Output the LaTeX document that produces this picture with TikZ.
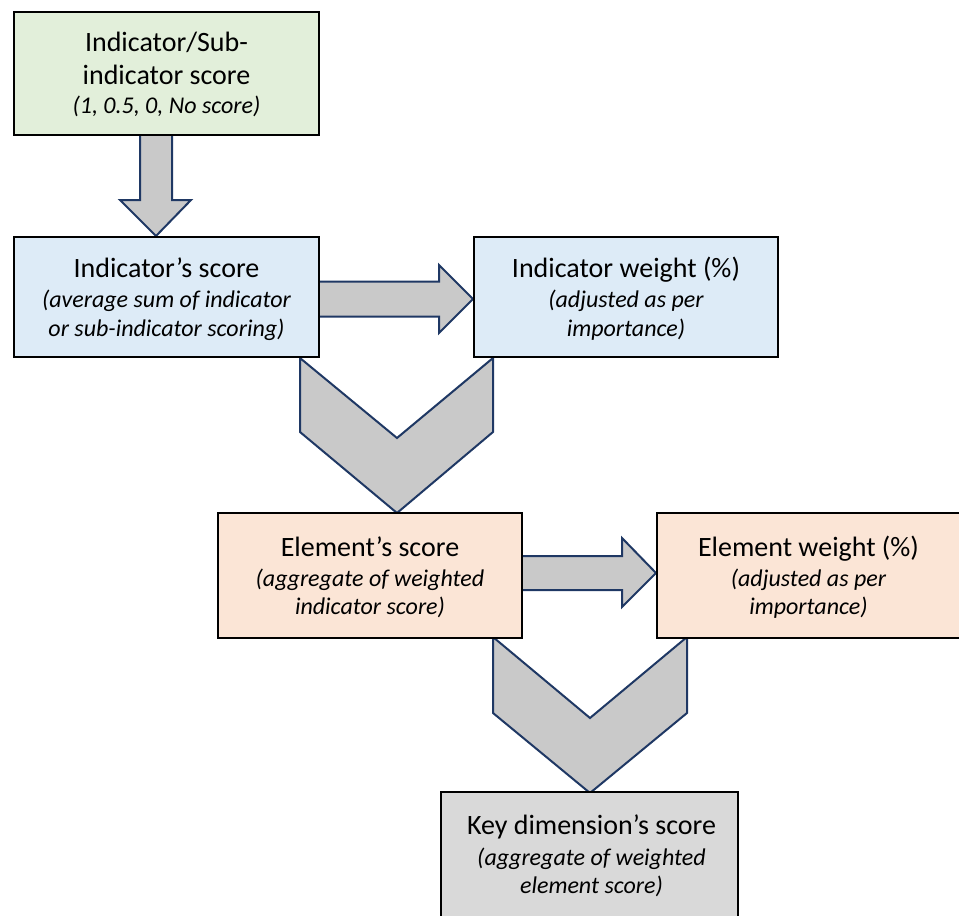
\documentclass[tikz,border=0pt]{standalone}
\usepackage{fontspec}
\setmainfont{Carlito}
\usetikzlibrary{calc}
\definecolor{cgreen}{HTML}{E2EFDA}
\definecolor{cblue}{HTML}{DDEBF7}
\definecolor{corange}{HTML}{FBE5D6}
\definecolor{cgrey}{HTML}{D9D9D9}
\definecolor{afill}{HTML}{C9C9C9}
\definecolor{aline}{HTML}{1F3864}
\pgfdeclarelayer{bg}
\pgfsetlayers{bg,main}
\newcommand{\sub}[1]{{\fontsize{24}{29}\selectfont\itshape #1}}
\newcommand{\fl}{\rule{0pt}{26pt}}
\begin{document}
\begin{tikzpicture}[x=1pt,y=-1pt,
  box/.style={draw=black, line width=2pt, inner sep=0pt},
  txt/.style={anchor=north, align=center, inner sep=0pt,
    font=\fontsize{28}{29}\selectfont},
  blk/.style={fill=afill, draw=aline, line width=2pt, line join=miter}]
\useasboundingbox (0,0) rectangle (959,916);

\node[box, fill=cgreen, minimum width=305pt, minimum height=123pt] (b1) at (166.5,73) {};
\node[box, fill=cblue, minimum width=305pt, minimum height=120pt] (b2) at (166.5,297) {};
\node[box, fill=cblue, minimum width=304pt, minimum height=120pt] (b3) at (626,297) {};
\node[box, fill=corange, minimum width=304pt, minimum height=125pt] (b4) at (370,575.5) {};
\node[box, fill=corange, minimum width=303pt, minimum height=125pt] (b5) at (808.5,575.5) {};
\node[box, fill=cgrey, minimum width=297pt, minimum height=126pt] (b6) at (589.5,855) {};

\node[txt] (t1) at ($(b1.north)+(0,15)$)
  {\fl Indicator/Sub-\\[4pt]indicator score\\\sub{(1, 0.5, 0, No score)}};
\node[txt] (t2) at ($(b2.north)+(0,15)$)
  {\fl Indicator’s score\\[1pt]\sub{(average sum of indicator}\\\sub{or sub-indicator scoring)}};
\node[txt] (t3) at ($(b3.north)+(0,15)$)
  {\fl Indicator weight (\%)\\[1pt]\sub{(adjusted as per}\\\sub{importance)}};
\node[txt] (t4) at ($(b4.north)+(0,18)$)
  {\fl Element’s score\\[1pt]\sub{(aggregate of weighted}\\[-1pt]\sub{indicator score)}};
\node[txt] (t5) at ($(b5.north)+(0,18)$)
  {\fl Element weight (\%)\\[1pt]\sub{(adjusted as per}\\[-1pt]\sub{importance)}};
\node[txt] (t6) at ($(b6.north)+(2,17)$)
  {\fl Key dimension’s score\\[2pt]\sub{(aggregate of weighted}\\[-1pt]\sub{element score)}};

\begin{pgfonlayer}{bg}
% down arrow b1 -> b2
\coordinate (d1) at ($(b1.south)+(-10.5,-4)$);
\coordinate (d2) at ($(b1.south)+(-10.5,0)$);
\coordinate (d3) at (d2 |- b2.north);
\draw[blk] ($(d1)+(-16,0)$) -- ($(d3)+(-16,-36)$) -- ($(d3)+(-36,-36)$) -- (d3)
  -- ($(d3)+(35,-36)$) -- ($(d3)+(16,-36)$) -- ($(d1)+(16,0)$) -- cycle;
% right arrow b2 -> b3
\coordinate (r1) at ($(b2.east)+(-6,2)$);
\coordinate (r2) at (b3.west |- r1);
\draw[blk] ($(r1)+(0,-17.5)$) -- ($(r2)+(-34,-17.5)$) -- ($(r2)+(-34,-34)$) -- (r2)
  -- ($(r2)+(-34,34)$) -- ($(r2)+(-34,17.5)$) -- ($(r1)+(0,17.5)$) -- cycle;
% chevron b2/b3 -> b4
\draw[blk] (300,358) -- (397,438) -- (493,358) -- (493,432) -- (397,513) -- (300,432) -- cycle;
% right arrow b4 -> b5
\coordinate (s1) at ($(b4.east)+(-6,-2.5)$);
\coordinate (s2) at (b5.west |- s1);
\draw[blk] ($(s1)+(0,-17)$) -- ($(s2)+(-34,-17)$) -- ($(s2)+(-34,-35)$) -- (s2)
  -- ($(s2)+(-34,34)$) -- ($(s2)+(-34,17)$) -- ($(s1)+(0,17)$) -- cycle;
% chevron b4/b5 -> b6
\draw[blk] (493,637) -- (590,718) -- (687,637) -- (687,713) -- (590,793) -- (493,713) -- cycle;
\end{pgfonlayer}
\end{tikzpicture}
\end{document}
